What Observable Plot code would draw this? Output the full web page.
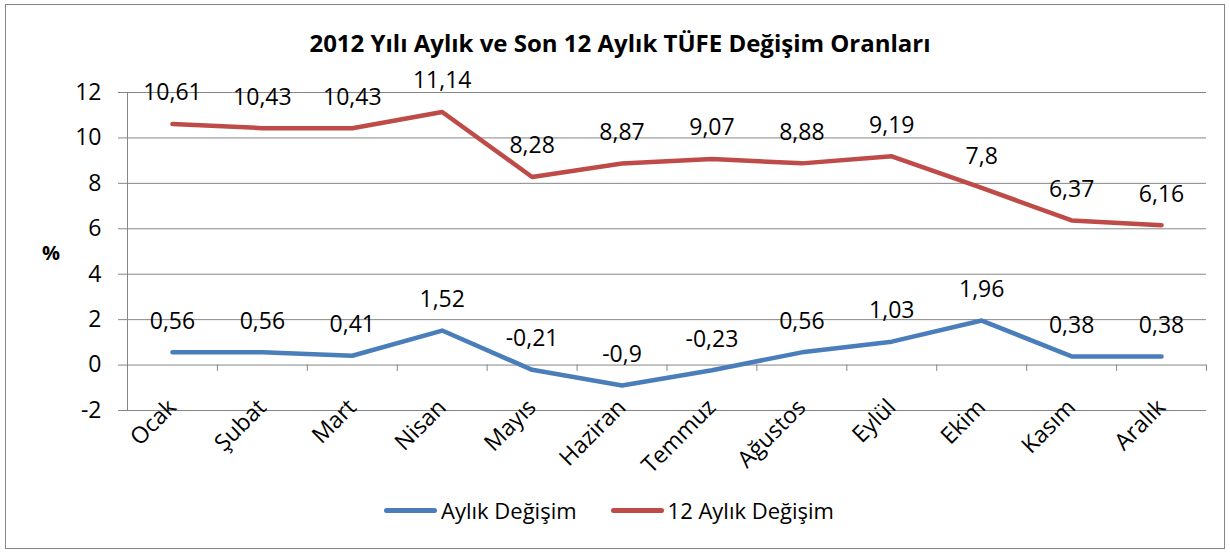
<!DOCTYPE html>
<html><head><meta charset="utf-8">
<script src="https://cdn.jsdelivr.net/npm/d3@7"></script>
<script src="https://cdn.jsdelivr.net/npm/@observablehq/plot@0.6"></script>
<style>
body{margin:0;background:#fff;}
#wrap{position:relative;width:1230px;height:552px;font-family:"Open Sans",sans-serif;color:#000;overflow:hidden}
#border{position:absolute;left:5px;top:4px;width:1220px;height:545px;border:1px solid #868686;box-sizing:border-box}
#title{position:absolute;top:27px;left:0;width:1240px;text-align:center;font-weight:bold;font-size:24px;line-height:32px}
#pct{position:absolute;left:42px;top:239px;font-weight:bold;font-size:20px;line-height:28px}
#legend{position:absolute;top:495px;left:0;width:1218px;display:flex;justify-content:center;align-items:center;font-size:22px;line-height:30px}
.item{display:flex;align-items:center;margin:0 17px}
.sw{width:53px;height:5px;border-radius:3px;margin-right:4px}
#chart{position:absolute;left:0;top:0}
</style></head>
<body>
<div id="wrap">
  <div id="border"></div>
  <div id="title"></div>
  <div id="pct">%</div>
  <div id="chart"></div>
  <div id="legend"></div>
</div>
<script>
const titleText = "2012 Yılı Aylık ve Son 12 Aylık TÜFE Değişim Oranları";
const months = ["Ocak","Şubat","Mart","Nisan","Mayıs","Haziran","Temmuz","Ağustos","Eylül","Ekim","Kasım","Aralık"];
const monthly = [0.56,0.56,0.41,1.52,-0.21,-0.9,-0.23,0.56,1.03,1.96,0.38,0.38];
const annual = [10.61,10.43,10.43,11.14,8.28,8.87,9.07,8.88,9.19,7.8,6.37,6.16];
const yTicks = [-2,0,2,4,6,8,10,12];
const seriesNames = ["Aylık Değişim","12 Aylık Değişim"];
const colors = ["#4A7EBB","#BE4B48"];

document.getElementById("title").textContent = titleText;
const fmt = v => String(v).replace(".", ",");
const idx = d3.range(months.length);
const rows = idx.flatMap(i => [
  {i, s: seriesNames[0], v: monthly[i]},
  {i, s: seriesNames[1], v: annual[i]}
]);
const bounds = d3.range(months.length + 1).map(i => i - 0.5);

const plot = Plot.plot({
  width: 1230, height: 552,
  marginLeft: 127, marginRight: 24, marginTop: 92, marginBottom: 142,
  style: {fontFamily: "Open Sans", fontSize: "20px", background: "transparent", overflow: "visible"},
  x: {type: "linear", domain: [-0.5, months.length - 0.5], axis: null},
  y: {domain: [-2, 12], axis: null},
  color: {domain: seriesNames, range: colors},
  marks: [
    Plot.ruleY(yTicks, {stroke: "#868686", strokeWidth: 1}),
    Plot.ruleX([-0.5], {y1: -2, y2: 12, stroke: "#868686", strokeWidth: 1}),
    Plot.axisY(yTicks, {label: null, tickSize: 9, tickPadding: 17, stroke: "#868686", fill: "black", fontSize: 23, tickFormat: d => String(d)}),
    Plot.ruleX(bounds, {y1: 0, y2: -0.28, stroke: "#868686", strokeWidth: 1}),
    Plot.line(rows, {x: "i", y: "v", z: "s", stroke: "s", strokeWidth: 4.5, strokeLinecap: "round", strokeLinejoin: "round"}),
    Plot.text(rows, {x: "i", y: "v", text: d => fmt(d.v), dy: -31, fill: "black", fontSize: 23}),
    Plot.text(months, {x: (d, i) => i, y: () => -2, text: d => d, rotate: -45, textAnchor: "end", dy: -7, fill: "black", fontSize: 23})
  ]
});
document.getElementById("chart").appendChild(plot);

const legend = document.getElementById("legend");
seriesNames.forEach((n, k) => {
  const it = document.createElement("div"); it.className = "item";
  const sw = document.createElement("div"); sw.className = "sw"; sw.style.background = colors[k];
  const tx = document.createElement("span"); tx.textContent = n;
  it.appendChild(sw); it.appendChild(tx); legend.appendChild(it);
});
</script>
</body></html>
